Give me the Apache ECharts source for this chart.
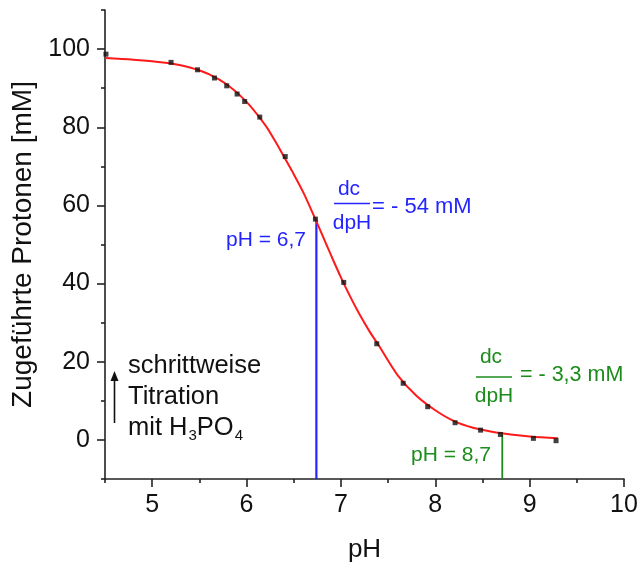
<!DOCTYPE html>
<html>
<head>
<meta charset="utf-8">
<script src="https://cdn.jsdelivr.net/npm/echarts@6/dist/echarts.min.js"></script>
<style>
html,body{margin:0;padding:0;background:#fff;}
#chart{width:641px;height:565px;}
</style>
</head>
<body>
<div id="chart"></div>
<script>
// ---- data ----
const fitPH  = [4.5, 4.8, 5.0, 5.2, 5.4, 5.6, 5.8, 6.0, 6.2, 6.3, 6.4, 6.5, 6.6, 6.7, 6.8, 6.9, 7.0, 7.1, 7.2, 7.3, 7.4, 7.6, 7.8, 8.0, 8.2, 8.4, 8.6, 8.8, 9.0, 9.3];
const fitVal = [97.7, 97.3, 96.9, 96.3, 95.3, 93.6, 90.8, 86.5, 80.5, 76.6, 72.3, 68.0, 63.4, 58.1, 52.6, 47.0, 41.6, 36.6, 32.0, 27.9, 24.2, 16.6, 11.3, 7.6, 4.8, 3.1, 2.1, 1.4, 0.9, 0.4];
const pointPH  = [4.51, 5.20, 5.48, 5.66, 5.79, 5.90, 5.98, 6.14, 6.41, 6.73, 7.03, 7.38, 7.66, 7.92, 8.21, 8.48, 8.69, 9.04, 9.28];
const pointVal = [98.7, 96.6, 94.7, 92.6, 90.6, 88.5, 86.6, 82.6, 72.5, 56.5, 40.3, 24.6, 14.5, 8.5, 4.4, 2.5, 1.4, 0.4, -0.2];
const bluePH = [6.74, 6.74];
const blueVal = [-10, 56.3];
const greenPH = [8.71, 8.71];
const greenVal = [-10, 1.4];
const xTicks = [5, 6, 7, 8, 9, 10];
const xMinorTicks = [4.5, 5.5, 6.5, 7.5, 8.5, 9.5];
const yTicks = [0, 20, 40, 60, 80, 100];
const yMinorTicks = [-10, 10, 30, 50, 70, 90, 110];

const FONT = '"Liberation Sans", Arial, sans-serif';
const AX = '#222';
const BLUE = '#2424ff';
const GREEN = '#1c8c1c';

const zip = (a, b) => a.map((v, i) => [v, b[i]]);

const chart = echarts.init(document.getElementById('chart'), null, {renderer: 'canvas'});

const baseX = {
  type: 'value', min: 4.5, max: 10, gridIndex: 0, position: 'bottom',
  splitLine: {show: false}
};
const baseY = {
  type: 'value', min: -10, max: 110, gridIndex: 0, position: 'left',
  splitLine: {show: false}
};

const option = {
  backgroundColor: '#fff',
  animation: false,
  grid: {left: 105, right: 17, top: 10, bottom: 86, containLabel: false, outerBoundsMode: 'none'},
  xAxis: [
    Object.assign({}, baseX, {
      name: 'pH', nameLocation: 'middle', nameGap: 58,
      nameTextStyle: {fontFamily: FONT, fontSize: 26, color: '#111'},
      axisLine: {show: true, onZero: false, lineStyle: {color: AX, width: 1.6}},
      axisTick: {show: true, inside: false, length: 8, customValues: xTicks, lineStyle: {color: AX, width: 1.6}},
      axisLabel: {show: true, margin: 14, customValues: xTicks, fontFamily: FONT, fontSize: 25, color: '#111'}
    }),
    Object.assign({}, baseX, {
      axisLine: {show: false, onZero: false},
      axisTick: {show: true, inside: false, length: 4, customValues: xMinorTicks, lineStyle: {color: AX, width: 1.6}},
      axisLabel: {show: false}
    })
  ],
  yAxis: [
    Object.assign({}, baseY, {
      name: 'Zugeführte Protonen [mM]', nameLocation: 'middle', nameGap: 62, nameRotate: 90,
      nameTextStyle: {fontFamily: FONT, fontSize: 28, color: '#111'},
      axisLine: {show: true, onZero: false, lineStyle: {color: AX, width: 1.6}},
      axisTick: {show: true, inside: false, length: 8, customValues: yTicks, lineStyle: {color: AX, width: 1.6}},
      axisLabel: {show: true, margin: 15, customValues: yTicks, fontFamily: FONT, fontSize: 25, color: '#111'}
    }),
    Object.assign({}, baseY, {
      axisLine: {show: false, onZero: false},
      axisTick: {show: true, inside: false, length: 4, customValues: yMinorTicks, lineStyle: {color: AX, width: 1.6}},
      axisLabel: {show: false}
    })
  ],
  series: [
    {
      type: 'line', name: 'blue', xAxisIndex: 0, yAxisIndex: 0,
      data: zip(bluePH, blueVal), symbol: 'none',
      lineStyle: {color: BLUE, width: 2.2}, z: 2
    },
    {
      type: 'line', name: 'green', xAxisIndex: 0, yAxisIndex: 0,
      data: zip(greenPH, greenVal), symbol: 'none',
      lineStyle: {color: GREEN, width: 1.8}, z: 2
    },
    {
      type: 'line', name: 'fit', xAxisIndex: 0, yAxisIndex: 0,
      data: zip(fitPH, fitVal), symbol: 'none', smooth: 0.3,
      lineStyle: {color: '#ff1a1a', width: 2}, z: 3
    },
    {
      type: 'scatter', name: 'points', xAxisIndex: 0, yAxisIndex: 0,
      data: zip(pointPH, pointVal), symbol: 'rect', symbolSize: 5,
      itemStyle: {color: '#111'}, z: 4
    }
  ],
  graphic: [
    // blue annotation
    {type: 'text', style: {text: 'pH = 6,7', x: 306, y: 240, align: 'right', verticalAlign: 'middle', fill: BLUE, font: '21px ' + FONT}},
    {type: 'text', style: {text: 'dc', x: 349, y: 189, align: 'center', verticalAlign: 'middle', fill: BLUE, font: '21px ' + FONT}},
    {type: 'line', shape: {x1: 334, y1: 203.5, x2: 370, y2: 203.5}, style: {stroke: BLUE, lineWidth: 1.6}},
    {type: 'text', style: {text: 'dpH', x: 352, y: 223, align: 'center', verticalAlign: 'middle', fill: BLUE, font: '21px ' + FONT}},
    {type: 'text', style: {text: '= - 54 mM', x: 372, y: 207, align: 'left', verticalAlign: 'middle', fill: BLUE, font: '22px ' + FONT}},
    // green annotation
    {type: 'text', style: {text: 'dc', x: 491, y: 357, align: 'center', verticalAlign: 'middle', fill: GREEN, font: '21px ' + FONT}},
    {type: 'line', shape: {x1: 476, y1: 377, x2: 512, y2: 377}, style: {stroke: GREEN, lineWidth: 1.6}},
    {type: 'text', style: {text: 'dpH', x: 494, y: 396, align: 'center', verticalAlign: 'middle', fill: GREEN, font: '21px ' + FONT}},
    {type: 'text', style: {text: '= - 3,3 mM', x: 520, y: 375, align: 'left', verticalAlign: 'middle', fill: GREEN, font: '21.5px ' + FONT}},
    {type: 'text', style: {text: 'pH = 8,7', x: 491, y: 455, align: 'right', verticalAlign: 'middle', fill: GREEN, font: '21px ' + FONT}},
    // titration note
    {type: 'line', shape: {x1: 114.5, y1: 423, x2: 114.5, y2: 378}, style: {stroke: '#111', lineWidth: 1.6}},
    {type: 'polygon', shape: {points: [[114.5, 371], [110.5, 381], [118.5, 381]]}, style: {fill: '#111'}},
    {type: 'text', style: {text: 'schrittweise', x: 128, y: 366, align: 'left', verticalAlign: 'middle', fill: '#111', font: '25.5px ' + FONT}},
    {type: 'text', style: {text: 'Titration', x: 128, y: 397, align: 'left', verticalAlign: 'middle', fill: '#111', font: '25.5px ' + FONT}},
    {type: 'text', style: {
      text: '{a|mit H}{s|3}{a|PO}{s|4}', x: 128, y: 428, align: 'left', verticalAlign: 'middle', fill: '#111',
      rich: {
        a: {fontFamily: FONT, fontSize: 25.5, color: '#111', height: 30, verticalAlign: 'middle'},
        s: {fontFamily: FONT, fontSize: 15, color: '#111', padding: [16, 0, 0, 1], verticalAlign: 'middle'}
      }
    }}
  ]
};
chart.setOption(option);
</script>
</body>
</html>
